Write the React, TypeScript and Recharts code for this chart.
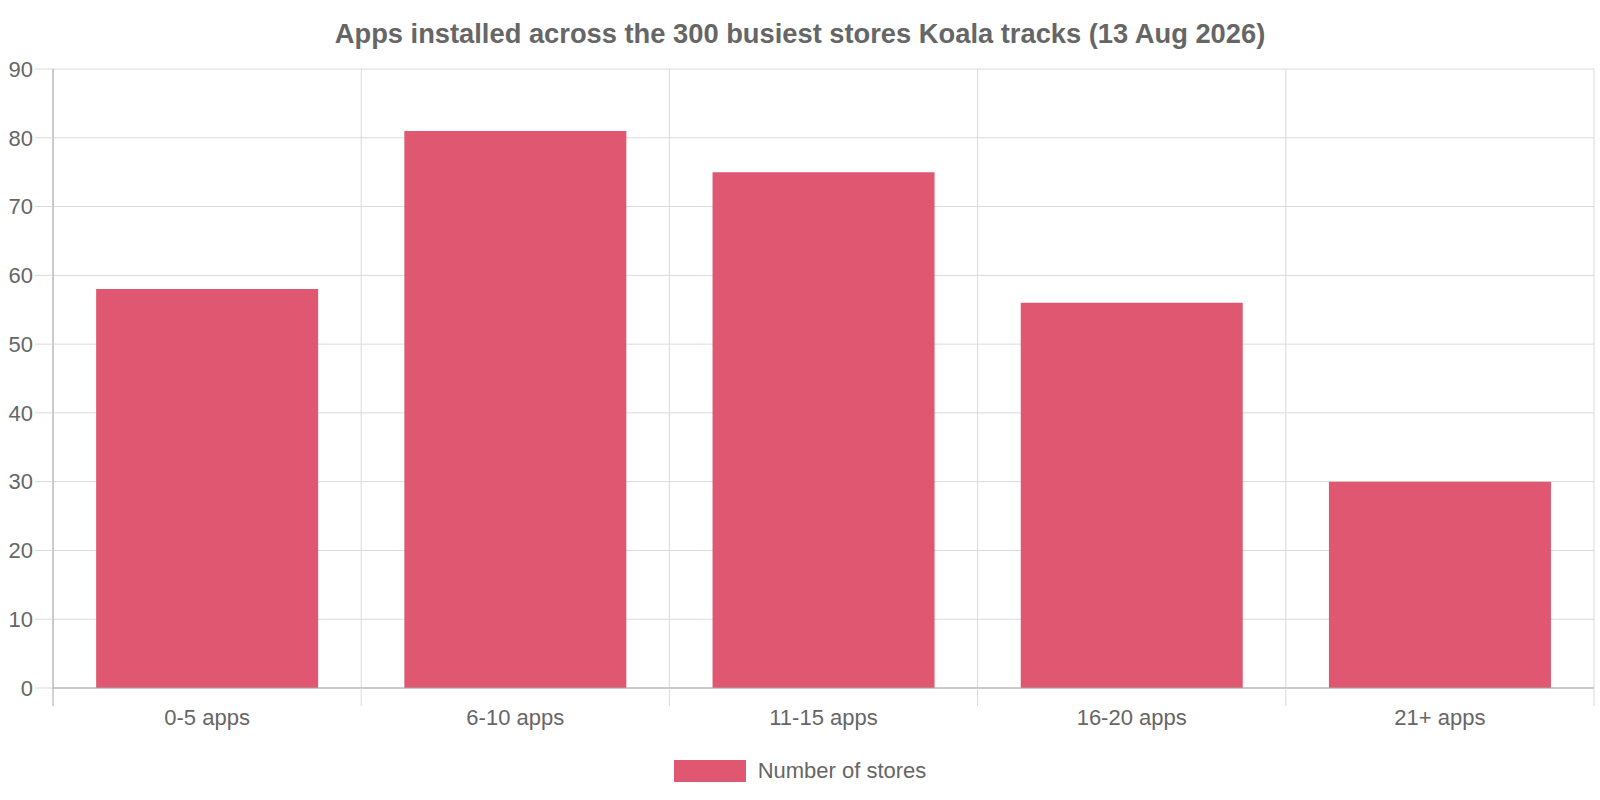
import React from "react";
import { BarChart, Bar, XAxis, YAxis, CartesianGrid, Legend } from "recharts";

const chartTitle =
  "Apps installed across the 300 busiest stores Koala tracks (13 Aug 2026)";
const seriesName = "Number of stores";
const categories = ["0-5 apps", "6-10 apps", "11-15 apps", "16-20 apps", "21+ apps"];
const storeCounts = [58, 81, 75, 56, 30];
const yTicks = [0, 10, 20, 30, 40, 50, 60, 70, 80, 90];

const BAR_COLOR = "#e05771";
const TEXT_COLOR = "#666";
const GRID_COLOR = "#dadada";
const AXIS_COLOR = "#a8a8a8";
const FONT = "'Liberation Sans', Arial, Helvetica, sans-serif";
const LABEL_SIZE = 22;
const TICK_LEN = 18;
const TICK_GAP = 3;

const data = categories.map((name, i) => ({ name, stores: storeCounts[i] }));

const LegendContent = () => (
  <div
    style={{
      height: 58,
      display: "flex",
      alignItems: "center",
      justifyContent: "center",
      fontFamily: FONT,
    }}
  >
    <span
      style={{
        display: "inline-block",
        width: 72,
        height: 22,
        background: BAR_COLOR,
        marginRight: 12,
      }}
    />
    <span style={{ fontSize: LABEL_SIZE, color: TEXT_COLOR }}>{seriesName}</span>
  </div>
);

// label + the small boundary ticks hanging under the x axis (chart.js style)
const CategoryTick = (props: any) => {
  const { x, y, payload, index, visibleTicksCount, width } = props;
  const half =
    payload && typeof payload.offset === "number" && payload.offset > 0
      ? payload.offset
      : width / visibleTicksCount / 2;
  const axisY = y - TICK_LEN - TICK_GAP;
  return (
    <g>
      <line
        x1={x - half}
        x2={x - half}
        y1={axisY}
        y2={axisY + TICK_LEN}
        stroke={index === 0 ? AXIS_COLOR : GRID_COLOR}
      />
      {index === visibleTicksCount - 1 && (
        <line
          x1={x + half}
          x2={x + half}
          y1={axisY}
          y2={axisY + TICK_LEN}
          stroke={GRID_COLOR}
        />
      )}
      <text
        x={x}
        y={y}
        dy="0.71em"
        textAnchor="middle"
        fontSize={LABEL_SIZE}
        fill={TEXT_COLOR}
        fontFamily={FONT}
      >
        {payload.value}
      </text>
    </g>
  );
};

// vertical grid at the category boundaries, not the centres
const boundaryGenerator = ({ xAxis, offset }: any) => {
  const scale = xAxis && xAxis.scale;
  if (typeof scale === "function" && typeof scale.bandwidth === "function") {
    const xs = categories.map((c) => scale(c));
    return [...xs, xs[xs.length - 1] + scale.bandwidth()];
  }
  const step = offset.width / categories.length;
  return [0, ...categories.map((_, i) => i + 1)].map((i) => offset.left + i * step);
};

export default function App() {
  return (
    <div
      style={{
        position: "absolute",
        left: 0,
        top: 0,
        width: 1600,
        height: 800,
        background: "#fff",
        fontFamily: FONT,
      }}
    >
      <div
        style={{
          position: "absolute",
          top: 21,
          left: 0,
          width: 1600,
          textAlign: "center",
          fontSize: 27.3,
          lineHeight: "26px",
          fontWeight: "bold",
          color: TEXT_COLOR,
        }}
      >
        {chartTitle}
      </div>
      <BarChart
        width={1600}
        height={800}
        data={data}
        margin={{ top: 69, right: 6, left: 0, bottom: 0 }}
        barCategoryGap="14%"
      >
        <CartesianGrid
          stroke={GRID_COLOR}
          xAxisId="cat"
          verticalCoordinatesGenerator={boundaryGenerator}
        />
        <XAxis
          xAxisId="cat"
          dataKey="name"
          height={54}
          axisLine={{ stroke: AXIS_COLOR }}
          tickLine={false}
          tickSize={TICK_LEN}
          tickMargin={TICK_GAP}
          interval={0}
          tick={CategoryTick}
        />
        <YAxis
          domain={[0, 90]}
          ticks={yTicks}
          interval={0}
          width={53}
          tickSize={TICK_LEN}
          tickMargin={2}
          tickLine={{ stroke: GRID_COLOR }}
          axisLine={{ stroke: AXIS_COLOR }}
          tick={{ fontSize: LABEL_SIZE, fill: TEXT_COLOR }}
        />
        <Legend
          verticalAlign="bottom"
          content={LegendContent}
          wrapperStyle={{ left: 0, width: 1600 }}
        />
        <Bar
          xAxisId="cat"
          dataKey="stores"
          name={seriesName}
          fill={BAR_COLOR}
          isAnimationActive={false}
        />
      </BarChart>
    </div>
  );
}
